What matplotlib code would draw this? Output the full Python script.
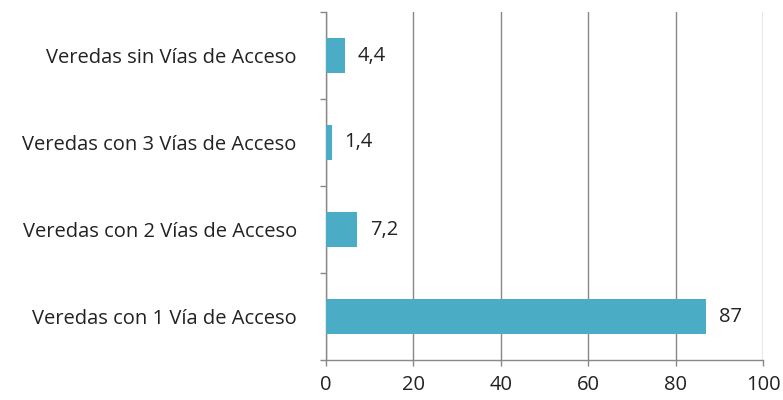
import matplotlib.pyplot as plt
from matplotlib.ticker import FixedLocator

categorias = ["Veredas con 1 Vía de Acceso", "Veredas con 2 Vías de Acceso",
              "Veredas con 3 Vías de Acceso", "Veredas sin Vías de Acceso"]
valores = [87, 7.2, 1.4, 4.4]
etiquetas = ["87", "7,2", "1,4", "4,4"]
xticks = [0, 20, 40, 60, 80, 100]

plt.rcParams["font.family"] = ["Open Sans", "DejaVu Sans"]

fig = plt.figure(figsize=(7.83, 4.0), dpi=100)
ax = fig.add_axes([326 / 783, 40 / 400, 437 / 783, 348 / 400])

pos = list(range(len(categorias)))
ax.barh(pos, valores, height=0.4, color="#4BACC6", zorder=3)

for p, v, t in zip(pos, valores, etiquetas):
    ax.annotate(t, (v, p), xytext=(9, 0), textcoords="offset points",
                va="center", ha="left", fontsize=14.5, color="#222222")

ax.set_xlim(0, 100)
ax.set_ylim(-0.5, len(categorias) - 0.5)
ax.set_xticks(xticks)
ax.set_xticklabels([str(x) for x in xticks], fontsize=14.5, color="#222222")
ax.set_yticks(pos)
ax.set_yticklabels(categorias, fontsize=14.5, color="#222222")
ax.yaxis.set_minor_locator(FixedLocator([p - 0.5 for p in pos] + [pos[-1] + 0.5]))
ax.tick_params(axis="y", which="major", length=0, pad=21)
ax.tick_params(axis="y", which="minor", length=4.5, color="#888888", width=1)
ax.tick_params(axis="x", length=4, color="#888888", width=1, pad=7)

ax.grid(axis="x", color="#888888", linewidth=1, zorder=0)
for s in ["top", "right"]:
    ax.spines[s].set_visible(False)
for s in ["left", "bottom"]:
    ax.spines[s].set_color("#888888")
    ax.spines[s].set_linewidth(1)

fig.savefig("out.png", dpi=100)
